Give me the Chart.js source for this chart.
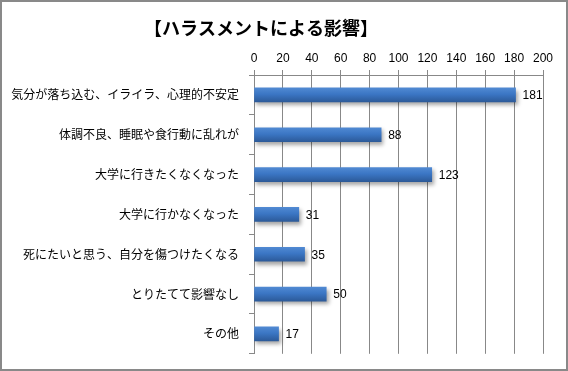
<!DOCTYPE html>
<html>
<head>
<meta charset="utf-8">
<script src="https://cdn.jsdelivr.net/npm/chart.js@4/dist/chart.umd.min.js"></script>
<style>
html,body{margin:0;padding:0;background:#fff;}
#wrap{width:568px;height:371px;position:relative;}
</style>
</head>
<body>
<div id="wrap"><canvas id="c" width="568" height="371"></canvas></div>
<script>
const chartTitle = '【ハラスメントによる影響】';
const categories = [
  '気分が落ち込む、イライラ、心理的不安定',
  '体調不良、睡眠や食行動に乱れが',
  '大学に行きたくなくなった',
  '大学に行かなくなった',
  '死にたいと思う、自分を傷つけたくなる',
  'とりたてて影響なし',
  'その他'
];
const counts = [181, 88, 123, 31, 35, 50, 17];
const tickMin = 0, tickMax = 200, tickStep = 20;

const JP = '"Noto Sans CJK JP", "Noto Sans", sans-serif';
const NUM = '"Liberation Sans", "DejaVu Sans", sans-serif';
const BAR_T = 14;

const framePlugin = {
  id: 'frame',
  beforeDraw(chart) {
    const ctx = chart.ctx;
    ctx.save();
    ctx.fillStyle = '#fff';
    ctx.fillRect(0, 0, chart.width, chart.height);
    ctx.restore();
  },
  afterDraw(chart) {
    const ctx = chart.ctx;
    ctx.save();
    ctx.strokeStyle = '#898989';
    ctx.lineWidth = 2;
    ctx.strokeRect(1, 1, chart.width - 2, chart.height - 2);
    // title
    ctx.fillStyle = '#000';
    ctx.font = 'bold 18px ' + JP;
    ctx.textAlign = 'center';
    ctx.textBaseline = 'middle';
    ctx.fillText(chartTitle, 261, 28);
    ctx.restore();
  }
};

const shadowPlugin = {
  id: 'barShadow',
  beforeDatasetsDraw(chart) {
    const ctx = chart.ctx;
    ctx.save();
    ctx.shadowColor = 'rgba(0,0,0,0.35)';
    ctx.shadowBlur = 4;
    ctx.shadowOffsetX = 2;
    ctx.shadowOffsetY = 3;
  },
  afterDatasetsDraw(chart) {
    chart.ctx.restore();
    const ctx = chart.ctx;
    const meta = chart.getDatasetMeta(0);
    ctx.save();
    ctx.fillStyle = '#000';
    ctx.font = '12px ' + NUM;
    ctx.textAlign = 'left';
    ctx.textBaseline = 'middle';
    meta.data.forEach((bar, i) => {
      ctx.fillText(String(chart.data.datasets[0].data[i]), bar.x + 7, bar.y + 1);
    });
    ctx.restore();
  }
};

new Chart(document.getElementById('c'), {
  type: 'bar',
  data: {
    labels: categories,
    datasets: [{
      data: counts,
      barThickness: BAR_T,
      backgroundColor(context) {
        const chart = context.chart;
        const ys = chart.scales.y;
        if (!ys || context.dataIndex === undefined) return '#3b76c4';
        const cy = ys.getPixelForValue(context.dataIndex);
        if (!isFinite(cy)) return '#3b76c4';
        const g = chart.ctx.createLinearGradient(0, cy - BAR_T / 2, 0, cy + BAR_T / 2);
        g.addColorStop(0, '#5089d2');
        g.addColorStop(0.45, '#3b76c4');
        g.addColorStop(1, '#2c5a99');
        return g;
      },
      borderWidth: 0
    }]
  },
  options: {
    indexAxis: 'y',
    responsive: false,
    animation: false,
    devicePixelRatio: 1,
    layout: { padding: { left: 0, right: 25, top: 0, bottom: 16 } },
    plugins: {
      legend: { display: false },
      title: { display: false },
      tooltip: { enabled: false }
    },
    scales: {
      x: {
        position: 'top',
        min: tickMin,
        max: tickMax,
        afterFit(scale) { scale.height = 75; },
        ticks: {
          stepSize: tickStep,
          color: '#000',
          font: { family: NUM, size: 12 },
          padding: 4
        },
        grid: {
          color: '#888888',
          lineWidth: 1,
          tickLength: 5,
          drawTicks: true
        },
        border: { display: true, color: '#888888', width: 1 }
      },
      y: {
        afterFit(scale) { scale.width = 254; },
        ticks: {
          color: '#000',
          font: { family: JP, size: 12 },
          padding: 10,
          autoSkip: false
        },
        grid: {
          drawOnChartArea: false,
          color: '#888888',
          tickLength: 5,
          offset: true
        },
        border: { display: true, color: '#888888', width: 1 }
      }
    }
  },
  plugins: [framePlugin, shadowPlugin]
});
</script>
</body>
</html>
